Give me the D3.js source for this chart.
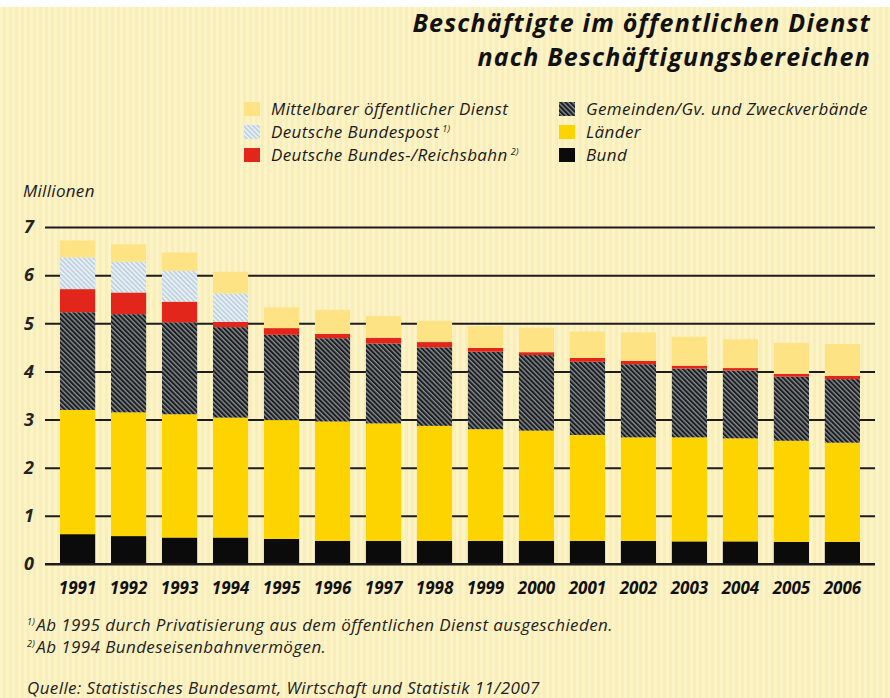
<!DOCTYPE html>
<html>
<head>
<meta charset="utf-8">
<script src="https://cdn.jsdelivr.net/npm/d3@7"></script>
<style>
  html, body { margin: 0; padding: 0; background: #fff; }
  svg { display: block; font-family: "Open Sans", "Liberation Sans", Arial, sans-serif; }
</style>
</head>
<body>
<svg id="chart" width="890" height="698"></svg>
<script>
// Jahre
var years = ["1991","1992","1993","1994","1995","1996","1997","1998",
             "1999","2000","2001","2002","2003","2004","2005","2006"];

// Beschäftigte in Millionen, je Bereich (von unten nach oben gestapelt)
var bund       = [0.62,0.58,0.55,0.55,0.52,0.48,0.48,0.48,0.48,0.48,0.48,0.48,0.47,0.47,0.46,0.46];
var laender    = [2.58,2.57,2.56,2.49,2.47,2.48,2.44,2.39,2.32,2.29,2.20,2.15,2.16,2.14,2.10,2.06];
var gemeinden  = [2.03,2.04,1.91,1.88,1.77,1.73,1.66,1.63,1.61,1.57,1.52,1.52,1.43,1.41,1.33,1.32];
var bahn       = [0.48,0.45,0.43,0.11,0.14,0.09,0.12,0.11,0.08,0.06,0.08,0.07,0.06,0.05,0.06,0.07];
var post       = [0.66,0.64,0.64,0.59,0,0,0,0,0,0,0,0,0,0,0,0];
var mittelbar  = [0.35,0.36,0.38,0.45,0.43,0.50,0.45,0.44,0.45,0.51,0.55,0.59,0.60,0.60,0.64,0.66];

var yTicks = [0,1,2,3,4,5,6,7];

var keys = ["bund","laender","gemeinden","bahn","post","mittelbar"];
var series = {bund: bund, laender: laender, gemeinden: gemeinden, bahn: bahn, post: post, mittelbar: mittelbar};

var rows = years.map(function(y, i) {
  var r = {year: y};
  keys.forEach(function(k) { r[k] = series[k][i]; });
  return r;
});

var svg = d3.select("#chart");
var defs = svg.append("defs");

// Hintergrund: cremefarben, leicht gestreift
var bg = defs.append("pattern").attr("id", "bgStripe")
  .attr("patternUnits", "userSpaceOnUse").attr("width", 6).attr("height", 10);
bg.append("rect").attr("width", 6).attr("height", 10).attr("fill", "#fcf3c7");
bg.append("rect").attr("x", 3).attr("width", 3).attr("height", 10).attr("fill", "#faeeb8");

// Schraffur Gemeinden
var hg = defs.append("pattern").attr("id", "hatchGem")
  .attr("patternUnits", "userSpaceOnUse").attr("width", 3.4).attr("height", 10)
  .attr("patternTransform", "rotate(-45)");
hg.append("rect").attr("width", 3.4).attr("height", 10).attr("fill", "#868c92");
hg.append("rect").attr("width", 2).attr("height", 10).attr("fill", "#1b1d1f");

// Schraffur Bundespost
var hp = defs.append("pattern").attr("id", "hatchPost")
  .attr("patternUnits", "userSpaceOnUse").attr("width", 3.4).attr("height", 10)
  .attr("patternTransform", "rotate(-45)");
hp.append("rect").attr("width", 3.4).attr("height", 10).attr("fill", "#bfd2e2");
hp.append("rect").attr("width", 1.5).attr("height", 10).attr("fill", "#eef3f4");

var fills = {
  bund: "#0b0b0b",
  laender: "#fdd400",
  gemeinden: "url(#hatchGem)",
  bahn: "#e2261b",
  post: "url(#hatchPost)",
  mittelbar: "#fde383"
};

svg.append("rect").attr("width", 890).attr("height", 698).attr("fill", "url(#bgStripe)");
svg.append("rect").attr("width", 890).attr("height", 7).attr("fill", "#ffffff");

// Titel
var title = svg.append("text")
  .attr("text-anchor", "end")
  .attr("font-weight", "bold").attr("font-style", "italic")
  .attr("font-size", 25).attr("letter-spacing", 1.2).attr("fill", "#111");
title.append("tspan").attr("x", 871).attr("y", 32).text("Beschäftigte im öffentlichen Dienst");
title.append("tspan").attr("x", 871).attr("y", 66).text("nach Beschäftigungsbereichen");

// Legende
var legendItems = [
  {key: "mittelbar", label: "Mittelbarer öffentlicher Dienst", note: null, col: 0, row: 0},
  {key: "post", label: "Deutsche Bundespost", note: "1)", col: 0, row: 1},
  {key: "bahn", label: "Deutsche Bundes-/Reichsbahn", note: "2)", col: 0, row: 2},
  {key: "gemeinden", label: "Gemeinden/Gv. und Zweckverbände", note: null, col: 1, row: 0},
  {key: "laender", label: "Länder", note: null, col: 1, row: 1},
  {key: "bund", label: "Bund", note: null, col: 1, row: 2}
];
var colX = [244, 559];
var rowY = [102, 125, 148];

var lg = svg.append("g").selectAll("g").data(legendItems).join("g")
  .attr("transform", function(d) { return "translate(" + colX[d.col] + "," + rowY[d.row] + ")"; });
lg.append("rect").attr("width", 16).attr("height", 14).attr("fill", function(d) { return fills[d.key]; });
var lt = lg.append("text").attr("x", 27).attr("y", 12.5)
  .attr("font-style", "italic").attr("font-size", 17).attr("letter-spacing", 0.4).attr("fill", "#1a1a1a");
lt.append("tspan").text(function(d) { return d.label; });
lt.filter(function(d) { return d.note; }).append("tspan")
  .attr("dx", 3).attr("dy", -6).attr("font-size", 9)
  .text(function(d) { return d.note; });

svg.append("text").attr("x", 23).attr("y", 197)
  .attr("font-style", "italic").attr("font-size", 17).attr("letter-spacing", 0.3).attr("fill", "#1a1a1a")
  .text("Millionen");

// Skalen
var x = d3.scaleBand().domain(years).range([60, 860]).paddingInner(0.31).paddingOuter(0);
var y = d3.scaleLinear().domain([0, 7]).range([564, 227]);

// y-Achse mit Gitterlinien (hinter den Balken)
var yAxis = svg.append("g").attr("transform", "translate(875,0)")
  .call(d3.axisLeft(y).tickValues(yTicks).tickSize(830).tickPadding(11).tickFormat(d3.format("d")));
yAxis.select(".domain").remove();
yAxis.selectAll(".tick line").attr("stroke", "#1c1c1c").attr("stroke-width", 2);
yAxis.selectAll(".tick text")
  .attr("font-family", "Open Sans, Liberation Sans, Arial, sans-serif")
  .attr("font-size", 18).attr("font-weight", "bold").attr("font-style", "italic").attr("fill", "#222");

// Balken
var stacked = d3.stack().keys(keys)(rows);
svg.append("g").selectAll("g").data(stacked).join("g")
  .attr("fill", function(s) { return fills[s.key]; })
  .selectAll("rect").data(function(s) { return s; }).join("rect")
  .attr("x", function(d) { return x(d.data.year); })
  .attr("width", x.bandwidth())
  .attr("y", function(d) { return y(d[1]); })
  .attr("height", function(d) { return Math.max(0, y(d[0]) - y(d[1])); });

// Nulllinie
svg.append("line").attr("x1", 45).attr("x2", 875)
  .attr("y1", y(0)).attr("y2", y(0)).attr("stroke", "#1c1c1c").attr("stroke-width", 2);

// x-Achse
var xAxis = svg.append("g").attr("transform", "translate(0," + y(0) + ")")
  .call(d3.axisBottom(x).tickSize(0).tickPadding(18));
xAxis.select(".domain").remove();
xAxis.selectAll(".tick text")
  .attr("font-family", "Open Sans, Liberation Sans, Arial, sans-serif")
  .attr("font-size", 17).attr("font-weight", "bold").attr("font-style", "italic").attr("fill", "#111");

// Fußnoten
var notes = [
  {sup: "1)", text: "Ab 1995 durch Privatisierung aus dem öffentlichen Dienst ausgeschieden.", y: 631},
  {sup: "2)", text: "Ab 1994 Bundeseisenbahnvermögen.", y: 653}
];
var nt = svg.append("g").selectAll("text").data(notes).join("text")
  .attr("x", 27).attr("y", function(d) { return d.y; })
  .attr("font-style", "italic").attr("font-size", 17).attr("letter-spacing", 0.4).attr("fill", "#222");
nt.append("tspan").attr("font-size", 9).attr("dy", -6).text(function(d) { return d.sup; });
nt.append("tspan").attr("dy", 6).attr("dx", 1).text(function(d) { return d.text; });

svg.append("text").attr("x", 27).attr("y", 694)
  .attr("font-style", "italic").attr("font-size", 17).attr("letter-spacing", 0.4).attr("fill", "#222")
  .text("Quelle: Statistisches Bundesamt, Wirtschaft und Statistik 11/2007");
</script>
</body>
</html>
